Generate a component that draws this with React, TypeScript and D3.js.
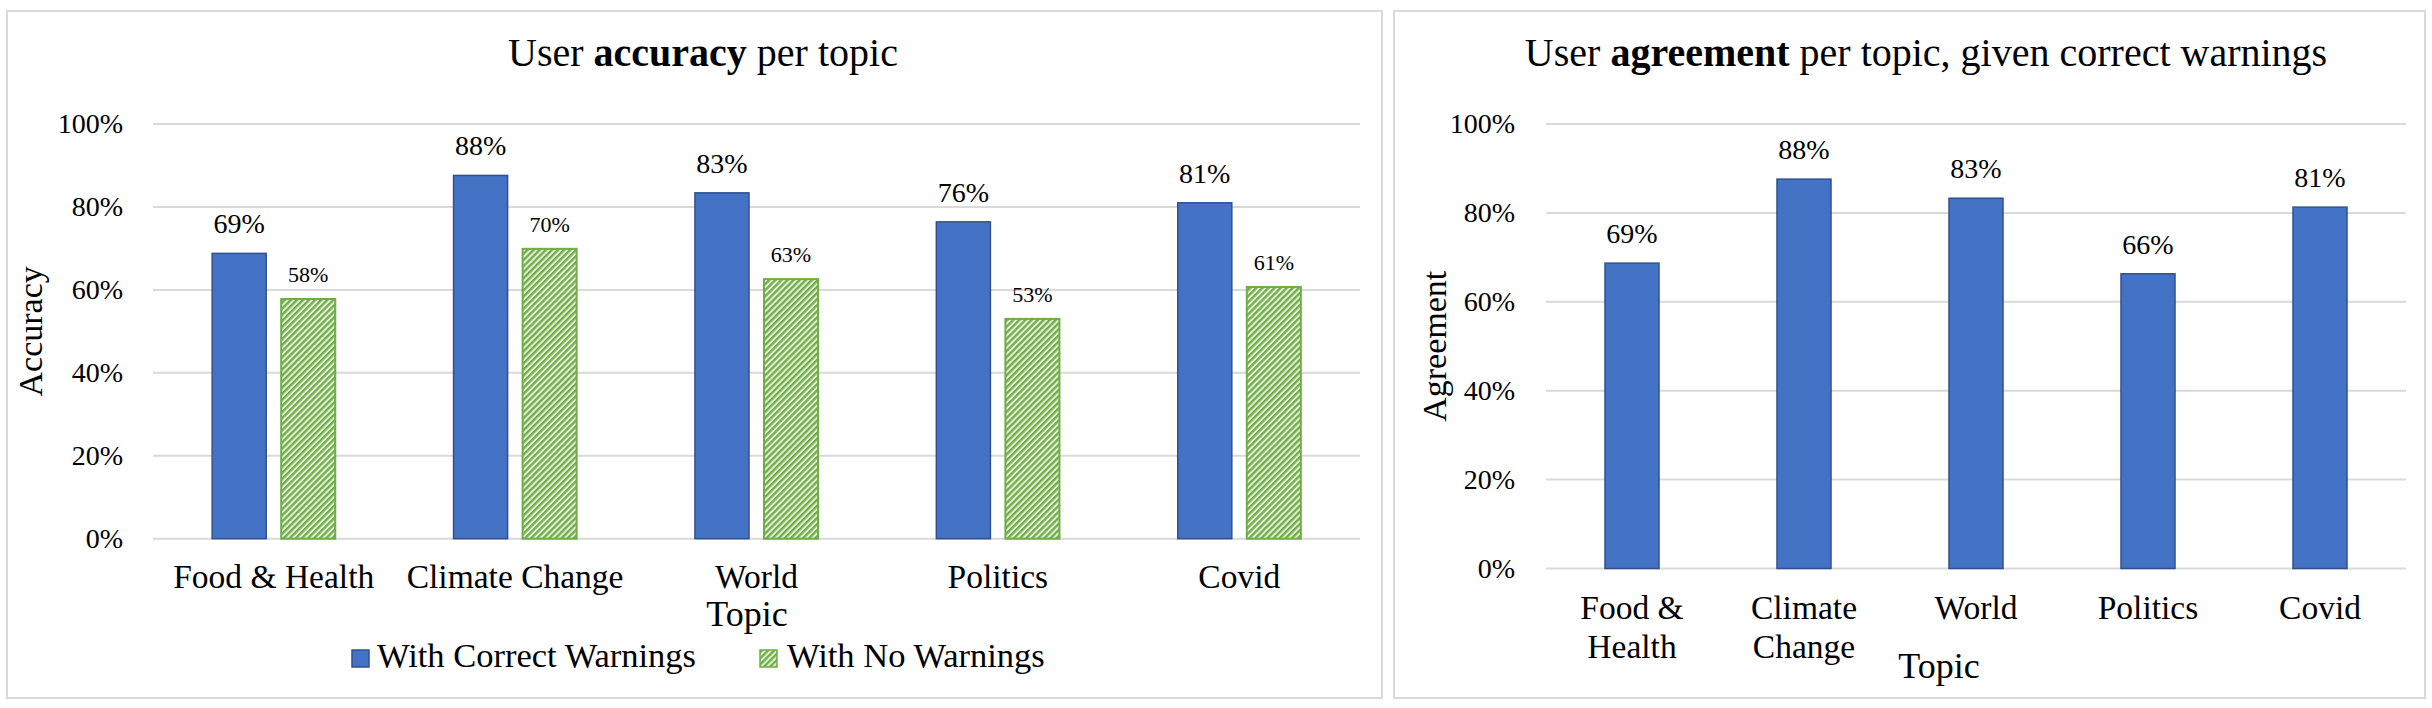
import React from "react";
import * as d3 from "d3";

// ---------- data ----------
const topics = ["Food & Health", "Climate Change", "World", "Politics", "Covid"];
const topicsWrapped = [["Food &", "Health"], ["Climate", "Change"], ["World"], ["Politics"], ["Covid"]];
const seriesNames = ["With Correct Warnings", "With No Warnings"];
const accuracyWithWarnings = [0.688, 0.876, 0.834, 0.764, 0.81];
const accuracyNoWarnings = [0.578, 0.699, 0.626, 0.53, 0.607];
const agreementWithWarnings = [0.687, 0.876, 0.833, 0.663, 0.813];
const yTicks = [0, 0.2, 0.4, 0.6, 0.8, 1.0];

const FONT = "'Liberation Serif', 'Times New Roman', serif";
const BLUE = "#4472C4";
const BLUE_EDGE = "#2F528F";
const GREEN = "#70AD47";
const GREEN_LIGHT = "#E2F0D9";
const GRID = "#D9D9D9";
const pct = d3.format(".0%");

function LeftChart() {
  const x = d3.scaleBand<string>().domain(topics).range([153, 1360]).paddingInner(0.49).paddingOuter(0.245);
  const xs = d3.scaleBand<string>().domain(seriesNames).range([0, x.bandwidth()]).paddingInner(0.217);
  const y = d3.scaleLinear().domain([0, 1]).range([538.7, 124]);
  const series = [accuracyWithWarnings, accuracyNoWarnings];
  return (
    <g>
      <rect x={7} y={11} width={1375} height={687} fill="#fff" stroke={GRID} strokeWidth={2} />
      <text x={703} y={66} textAnchor="middle" fontSize={40} fontFamily={FONT}>
        User <tspan fontWeight="bold">accuracy</tspan> per topic
      </text>
      {yTicks.map((t) => (
        <g key={t}>
          <line x1={153} x2={1360} y1={y(t)} y2={y(t)} stroke={GRID} strokeWidth={2} />
          <text x={123} y={y(t) + 9} textAnchor="end" fontSize={28} fontFamily={FONT}>{pct(t)}</text>
        </g>
      ))}
      <text transform={`translate(42,${(y(0) + y(1)) / 2}) rotate(-90)`} textAnchor="middle" fontSize={34} fontFamily={FONT}>Accuracy</text>
      {topics.map((c, i) => (
        <g key={c} transform={`translate(${x(c)},0)`}>
          {series.map((s, k) => {
            const v = s[i];
            const bx = xs(seriesNames[k])!;
            return (
              <g key={k}>
                <rect
                  x={bx}
                  y={y(v)}
                  width={xs.bandwidth()}
                  height={y(0) - y(v)}
                  fill={k === 0 ? BLUE : "url(#hatch)"}
                  stroke={k === 0 ? BLUE_EDGE : GREEN}
                  strokeWidth={k === 0 ? 1.5 : 2}
                />
                <text
                  x={bx + xs.bandwidth() / 2}
                  y={y(v) - (k === 0 ? 20 : 17)}
                  textAnchor="middle"
                  fontSize={k === 0 ? 28 : 22}
                  fontFamily={FONT}
                >
                  {pct(v)}
                </text>
              </g>
            );
          })}
          <text x={x.bandwidth() / 2} y={588} textAnchor="middle" fontSize={33.5} fontFamily={FONT}>{c}</text>
        </g>
      ))}
      <text x={747} y={626} textAnchor="middle" fontSize={36} fontFamily={FONT}>Topic</text>
      <g>
        <rect x={352} y={650} width={17} height={17} fill={BLUE} stroke={BLUE_EDGE} strokeWidth={1.5} />
        <text x={377} y={667} fontSize={34.5} fontFamily={FONT}>{seriesNames[0]}</text>
        <rect x={760} y={650} width={17} height={17} fill="url(#hatch)" stroke={GREEN} strokeWidth={1.5} />
        <text x={787} y={667} fontSize={34.5} fontFamily={FONT}>{seriesNames[1]}</text>
      </g>
    </g>
  );
}

function RightChart() {
  const x = d3.scaleBand<string>().domain(topics).range([1546, 2406]).paddingInner(0.686).paddingOuter(0.343);
  const y = d3.scaleLinear().domain([0, 1]).range([568.5, 124]);
  return (
    <g>
      <rect x={1394} y={11} width={1031} height={687} fill="#fff" stroke={GRID} strokeWidth={2} />
      <text x={1926} y={66} textAnchor="middle" fontSize={40} fontFamily={FONT}>
        User <tspan fontWeight="bold">agreement</tspan> per topic, given correct warnings
      </text>
      {yTicks.map((t) => (
        <g key={t}>
          <line x1={1546} x2={2406} y1={y(t)} y2={y(t)} stroke={GRID} strokeWidth={2} />
          <text x={1515} y={y(t) + 9} textAnchor="end" fontSize={28} fontFamily={FONT}>{pct(t)}</text>
        </g>
      ))}
      <text transform={`translate(1446,${(y(0) + y(1)) / 2}) rotate(-90)`} textAnchor="middle" fontSize={34} fontFamily={FONT}>Agreement</text>
      {topics.map((c, i) => {
        const v = agreementWithWarnings[i];
        const cx = x(c)! + x.bandwidth() / 2;
        return (
          <g key={c}>
            <rect x={x(c)} y={y(v)} width={x.bandwidth()} height={y(0) - y(v)} fill={BLUE} stroke={BLUE_EDGE} strokeWidth={1.5} />
            <text x={cx} y={y(v) - 20} textAnchor="middle" fontSize={28} fontFamily={FONT}>{pct(v)}</text>
            {topicsWrapped[i].map((line, j) => (
              <text key={j} x={cx} y={619 + j * 38.5} textAnchor="middle" fontSize={33.5} fontFamily={FONT}>{line}</text>
            ))}
          </g>
        );
      })}
      <text x={1939} y={678} textAnchor="middle" fontSize={36} fontFamily={FONT}>Topic</text>
    </g>
  );
}

export default function App() {
  return (
    <svg width={2432} height={708} style={{ position: "absolute", left: 0, top: 0, background: "#fff" }}>
      <defs>
        <pattern id="hatch" patternUnits="userSpaceOnUse" width={4.3} height={4.3} patternTransform="rotate(45)">
          <rect width={4.3} height={4.3} fill={GREEN_LIGHT} />
          <rect width={2.3} height={4.3} fill={GREEN} />
        </pattern>
      </defs>
      <rect width={2432} height={708} fill="#fff" />
      <LeftChart />
      <RightChart />
    </svg>
  );
}
